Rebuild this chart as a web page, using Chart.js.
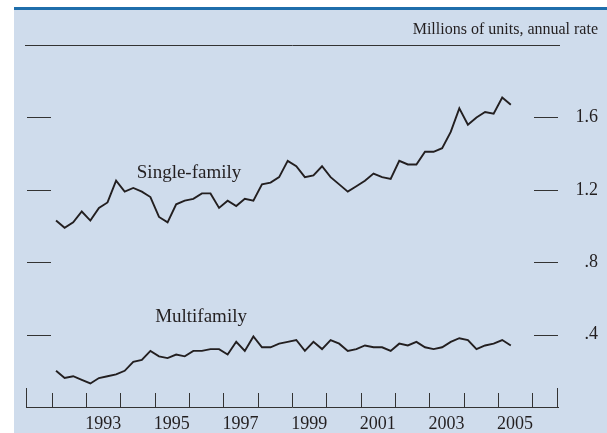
<!DOCTYPE html>
<html>
<head>
<meta charset="utf-8">
<script src="https://cdn.jsdelivr.net/npm/chart.js@4"></script>
<style>
body{margin:0;background:#fff;}
#box{width:607px;height:433px;}
</style>
</head>
<body>
<div id="box"><canvas id="starts" width="607" height="433"></canvas></div>
<script>
// quarterly housing starts, millions of units (annual rate)
var quarters = [
  '1992 Q1','1992 Q2','1992 Q3','1992 Q4',
  '1993 Q1','1993 Q2','1993 Q3','1993 Q4',
  '1994 Q1','1994 Q2','1994 Q3','1994 Q4',
  '1995 Q1','1995 Q2','1995 Q3','1995 Q4',
  '1996 Q1','1996 Q2','1996 Q3','1996 Q4',
  '1997 Q1','1997 Q2','1997 Q3','1997 Q4',
  '1998 Q1','1998 Q2','1998 Q3','1998 Q4',
  '1999 Q1','1999 Q2','1999 Q3','1999 Q4',
  '2000 Q1','2000 Q2','2000 Q3','2000 Q4',
  '2001 Q1','2001 Q2','2001 Q3','2001 Q4',
  '2002 Q1','2002 Q2','2002 Q3','2002 Q4',
  '2003 Q1','2003 Q2','2003 Q3','2003 Q4',
  '2004 Q1','2004 Q2','2004 Q3','2004 Q4',
  '2005 Q1','2005 Q2'
];
var singleFamily = [
  1.03,0.99,1.02,1.08, 1.03,1.10,1.13,1.25, 1.19,1.21,1.19,1.16,
  1.05,1.02,1.12,1.14, 1.15,1.18,1.18,1.10, 1.14,1.11,1.15,1.14,
  1.23,1.24,1.27,1.36, 1.33,1.27,1.28,1.33, 1.27,1.23,1.19,1.22,
  1.25,1.29,1.27,1.26, 1.36,1.34,1.34,1.41, 1.41,1.43,1.52,1.65,
  1.56,1.60,1.63,1.62, 1.71,1.67
];
var multifamily = [
  0.20,0.16,0.17,0.15, 0.13,0.16,0.17,0.18, 0.20,0.25,0.26,0.31,
  0.28,0.27,0.29,0.28, 0.31,0.31,0.32,0.32, 0.29,0.36,0.31,0.39,
  0.33,0.33,0.35,0.36, 0.37,0.31,0.36,0.32, 0.37,0.35,0.31,0.32,
  0.34,0.33,0.33,0.31, 0.35,0.34,0.36,0.33, 0.32,0.33,0.36,0.38,
  0.37,0.32,0.34,0.35, 0.37,0.34
];
var yearLabels = ['1993','1995','1997','1999','2001','2003','2005'];
var yearMarks = [1992,1993,1994,1995,1996,1997,1998,1999,2000,2001,2002,2003,2004,2005,2006];
var valueTicks = [0.4,0.8,1.2,1.6];

var serif = "'Liberation Serif','Times New Roman',serif";
var ink = '#231f20';

function quarterToYear(q){
  var p = q.split(' Q');
  return Number(p[0]) + (Number(p[1]) - 0.5) / 4;
}
function toPoints(values){
  var pts = [];
  for (var i = 0; i < quarters.length; i++) {
    pts.push({x: quarterToYear(quarters[i]), y: values[i]});
  }
  return pts;
}

// background, top rule, inner tick dashes and series names
var decor = {
  id: 'decor',
  beforeDraw: function(chart){
    var c = chart.ctx;
    c.save();
    c.fillStyle = '#ffffff';
    c.fillRect(0, 0, chart.width, chart.height);
    c.fillStyle = '#cfdcec';
    c.fillRect(14, 9, chart.width - 14, chart.height - 9);
    c.fillStyle = '#1f6eab';
    c.fillRect(14, 7, chart.width - 14, 3);
    c.restore();
  },
  afterDatasetsDraw: function(chart){
    var c = chart.ctx;
    var a = chart.chartArea;
    var xs = chart.scales.x;
    var ys = chart.scales.y;
    c.save();
    c.strokeStyle = '#333333';
    c.lineWidth = 1;
    c.beginPath();
    c.moveTo(a.left - 1, a.top + 0.5);
    c.lineTo(a.right + 2, a.top + 0.5);
    // y dashes, both sides
    valueTicks.forEach(function(v){
      var y = Math.round(ys.getPixelForValue(v)) + 0.5;
      c.moveTo(a.left + 1, y);
      c.lineTo(a.left + 25, y);
      c.moveTo(a.right - 24, y);
      c.lineTo(a.right, y);
    });
    // year marks on the baseline
    yearMarks.forEach(function(yr){
      var x = Math.round(xs.getPixelForValue(yr)) + 0.5;
      c.moveTo(x, a.bottom);
      c.lineTo(x, a.bottom - 14);
    });
    c.moveTo(a.left + 0.5, a.bottom);
    c.lineTo(a.left + 0.5, a.bottom - 19);
    c.moveTo(a.right - 0.5, a.bottom);
    c.lineTo(a.right - 0.5, a.bottom - 19);
    c.stroke();

    c.fillStyle = ink;
    c.font = '19px ' + serif;
    c.textAlign = 'center';
    c.textBaseline = 'alphabetic';
    c.fillText('Single-family', xs.getPixelForValue(1996.0), ys.getPixelForValue(1.267));
    c.fillText('Multifamily', xs.getPixelForValue(1996.35), ys.getPixelForValue(0.472));
    c.restore();
  }
};

var ctx = document.getElementById('starts').getContext('2d');
var chart = new Chart(ctx, {
  type: 'line',
  data: {
    datasets: [
      {label: 'Single-family', data: toPoints(singleFamily)},
      {label: 'Multifamily', data: toPoints(multifamily)}
    ]
  },
  options: {
    responsive: false,
    animation: false,
    devicePixelRatio: 1,
    layout: {padding: {left: 26, right: 9, top: 0, bottom: 0}},
    elements: {
      point: {radius: 0},
      line: {borderColor: ink, borderWidth: 1.9, tension: 0, fill: false}
    },
    plugins: {
      legend: {display: false},
      tooltip: {enabled: false},
      title: {
        display: true,
        text: 'Millions of units, annual rate',
        align: 'end',
        color: ink,
        font: {family: serif, size: 16, weight: 'normal'},
        padding: {top: 20, bottom: 5.8}
      }
    },
    scales: {
      x: {
        type: 'linear',
        min: 1991.25,
        max: 2006.75,
        grid: {display: false, drawTicks: false},
        border: {display: true, color: '#333333', width: 1},
        afterBuildTicks: function(scale){
          scale.ticks = yearLabels.map(function(y){ return {value: Number(y) + 0.5}; });
        },
        afterFit: function(scale){ scale.height = 26; },
        ticks: {
          autoSkip: false,
          maxRotation: 0,
          padding: 6,
          color: ink,
          font: {family: serif, size: 18},
          callback: function(v){ return String(Math.floor(v)); }
        }
      },
      y: {
        position: 'right',
        min: 0,
        max: 2.0,
        grid: {display: false, drawTicks: false},
        border: {display: false},
        afterBuildTicks: function(scale){
          scale.ticks = valueTicks.map(function(v){ return {value: v}; });
        },
        afterFit: function(scale){ scale.width = 40; },
        ticks: {
          crossAlign: 'far',
          color: ink,
          font: {family: serif, size: 18},
          callback: function(v){ return v < 1 ? String(v).replace('0.', '.') : v.toFixed(1); }
        }
      }
    }
  },
  plugins: [decor]
});
</script>
</body>
</html>
